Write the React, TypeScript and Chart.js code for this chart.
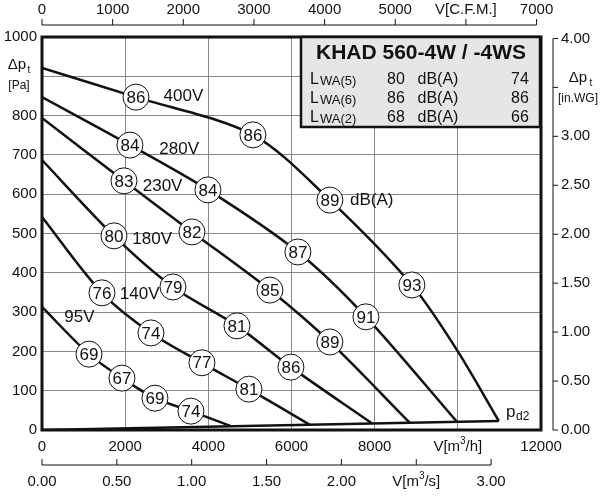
import React, { useEffect, useRef } from "react";
import { Chart, registerables } from "chart.js";
Chart.register(...registerables);

const FONT = '"Liberation Sans", Arial, sans-serif';

const curve400 = [[0, 921], [2260, 847], [5072, 751], [6923, 585], [8895, 369], [9977, 204], [10986, 23]];
const curve280 = [[0, 847], [2115, 725], [3990, 611], [6154, 453], [7789, 288], [9977, 21]];
const curve230 = [[0, 794], [1971, 634], [3606, 504], [5481, 356], [6923, 224], [8847, 18]];
const curve180 = [[0, 687], [1731, 494], [3149, 364], [4688, 265], [5986, 160], [7933, 17]];
const curve140 = [[0, 542], [1442, 349], [2620, 247], [3846, 171], [4976, 104], [6443, 13]];
const curve95 = [[0, 313], [1130, 193], [1923, 132], [2716, 81], [3582, 48], [4544, 10]];
const pd2Line = [[0, 0], [10986, 23]];

const markers = [
  [2260, 847, "86"], [5072, 751, "86"], [6923, 585, "89"], [8895, 369, "93"],
  [2115, 725, "84"], [3990, 611, "84"], [6154, 453, "87"], [7789, 288, "91"],
  [1971, 634, "83"], [3606, 504, "82"], [5481, 356, "85"], [6923, 224, "89"],
  [1731, 494, "80"], [3149, 364, "79"], [4688, 265, "81"], [5986, 160, "86"],
  [1442, 349, "76"], [2620, 247, "74"], [3846, 171, "77"], [4976, 104, "81"],
  [1130, 193, "69"], [1923, 132, "67"], [2716, 81, "69"], [3582, 48, "74"],
];

const curveLabels = [
  [3400, 848, "400V"], [3300, 714, "280V"], [2900, 620, "230V"],
  [2650, 485, "180V"], [2350, 346, "140V"], [900, 288, "95V"], [7930, 585, "dB(A)"],
];

const leftTicks = [0, 100, 200, 300, 400, 500, 600, 700, 800, 1000];
const rightTicks = ["0.00", "0.50", "1.00", "1.50", "2.00", "2.50", "3.00", "4.00"];
const rightTickVals = [0, 0.5, 1, 1.5, 2, 2.5, 3, 4];
const cfmTicks = [0, 1000, 2000, 3000, 4000, 5000, 7000];
const m3hTicks = [0, 2000, 4000, 6000, 8000, 12000];
const m3sTicks = [0, 0.5, 1, 1.5, 2, 3];
const m3sLabels = ["0.00", "0.50", "1.00", "1.50", "2.00", "3.00"];

const tableTitle = "KHAD 560-4W / -4WS";
const tableRows = [
  ["LWA(5)", "80", "dB(A)", "74"],
  ["LWA(6)", "86", "dB(A)", "86"],
  ["LWA(2)", "68", "dB(A)", "66"],
];

const toXY = (a: number[][]) => a.map(([x, y]) => ({ x, y }));

function supText(c: any, cx: number, y: number, a: string, s: string, b: string) {
  c.font = `15px ${FONT}`;
  const wa = c.measureText(a).width, wb = c.measureText(b).width;
  c.font = `10px ${FONT}`;
  const ws = c.measureText(s).width;
  const x0 = cx - (wa + ws + wb) / 2;
  c.textAlign = "left";
  c.font = `15px ${FONT}`;
  c.fillText(a, x0, y);
  c.fillText(b, x0 + wa + ws, y);
  c.font = `10px ${FONT}`;
  c.fillText(s, x0 + wa, y - 6);
  c.textAlign = "center";
}

export default function App() {
  const ref = useRef<HTMLCanvasElement>(null);
  useEffect(() => {
    document.body.style.margin = "0";
    const lineDs = (d: number[][]) => ({
      type: "line" as const,
      data: toXY(d),
      borderColor: "#111",
      borderWidth: 2.5,
      pointRadius: 0,
      tension: 0.3,
      fill: false,
      order: 2,
    });
    const overlay = {
      id: "overlay",
      afterDraw(chart: any) {
        const c = chart.ctx;
        const xs = chart.scales.x, ys = chart.scales.y;
        const a = chart.chartArea;
        c.save();
        c.fillStyle = "#111";
        c.textAlign = "center";
        c.textBaseline = "middle";
        c.font = `17px ${FONT}`;
        markers.forEach(([x, y, t]: any) => c.fillText(t, xs.getPixelForValue(x), ys.getPixelForValue(y) + 1));
        curveLabels.forEach(([x, y, t]: any) => c.fillText(t, xs.getPixelForValue(x), ys.getPixelForValue(y)));
        c.strokeStyle = "#111";
        c.lineWidth = 3;
        c.strokeRect(a.left, a.top, a.right - a.left, a.bottom - a.top);
        c.font = `17px ${FONT}`;
        c.textAlign = "left";
        c.fillText("p", 506, 412);
        c.font = `12px ${FONT}`;
        c.fillText("d2", 516, 417);
        // left axis
        c.font = `15px ${FONT}`;
        c.textAlign = "right";
        leftTicks.forEach((v) => c.fillText(String(v), 37, ys.getPixelForValue(v)));
        c.textAlign = "center";
        c.fillText("Δp", 17, 65);
        c.font = `10px ${FONT}`;
        c.fillText("t", 29, 70);
        c.font = `12px ${FONT}`;
        c.fillText("[Pa]", 19, 86);
        // right axis
        const rx = 553;
        const py = (w: number) => ys.getPixelForValue(w * 249.09);
        c.lineWidth = 1;
        c.beginPath();
        c.moveTo(rx, py(0)); c.lineTo(rx, py(4));
        rightTickVals.forEach((v) => { c.moveTo(rx, py(v)); c.lineTo(rx + 5, py(v)); });
        c.moveTo(rx, py(3.5)); c.lineTo(rx + 5, py(3.5));
        c.stroke();
        c.font = `15px ${FONT}`;
        c.textAlign = "left";
        rightTickVals.forEach((v, i) => c.fillText(rightTicks[i], 561, py(v)));
        c.textAlign = "center";
        c.fillText("Δp", 578, 78);
        c.font = `10px ${FONT}`;
        c.fillText("t", 591, 83);
        c.font = `12px ${FONT}`;
        c.fillText("[in.WG]", 578, 99);
        // top axis
        const cx = (v: number) => xs.getPixelForValue(v * 1.699);
        c.beginPath();
        c.moveTo(cx(0), 25); c.lineTo(cx(7000), 25);
        [0, 1000, 2000, 3000, 4000, 5000, 6000, 7000].forEach((v) => { c.moveTo(cx(v), 25); c.lineTo(cx(v), 19); });
        c.stroke();
        c.font = `15px ${FONT}`;
        cfmTicks.forEach((v) => c.fillText(String(v), cx(v), 10));
        c.fillText("V[C.F.M.]", cx(6000), 10);
        // bottom m3/h
        m3hTicks.forEach((v) => c.fillText(String(v), xs.getPixelForValue(v), 447));
        supText(c, xs.getPixelForValue(10000), 447, "V[m", "3", "/h]");
        // m3/s axis
        const sx = (v: number) => xs.getPixelForValue(v * 3600);
        c.beginPath();
        c.moveTo(sx(0), 465); c.lineTo(sx(3), 465);
        [0, 0.5, 1, 1.5, 2, 2.5, 3].forEach((v) => { c.moveTo(sx(v), 465); c.lineTo(sx(v), 459); });
        c.stroke();
        c.font = `15px ${FONT}`;
        m3sTicks.forEach((v, i) => c.fillText(m3sLabels[i], sx(v), 482));
        supText(c, sx(2.5), 482, "V[m", "3", "/s]");
        // table
        c.fillStyle = "#e6e6e6";
        c.fillRect(301, 37, 239, 90);
        c.strokeStyle = "#111";
        c.lineWidth = 2.5;
        c.strokeRect(301, 37, 239, 90);
        c.fillStyle = "#111";
        c.textAlign = "center";
        c.font = `bold 21px ${FONT}`;
        c.fillText(tableTitle, 421, 53);
        tableRows.forEach((r, i) => {
          const y = 80 + i * 19;
          c.textAlign = "left";
          c.font = `16px ${FONT}`;
          c.fillText("L", 310, y);
          c.font = `13px ${FONT}`;
          c.fillText(r[0].slice(1), 320, y + 1);
          c.font = `16px ${FONT}`;
          c.textAlign = "center";
          c.fillText(r[1], 396, y);
          c.fillText(r[2], 438, y);
          c.fillText(r[3], 520, y);
        });
        c.restore();
      },
    };
    const chart = new Chart(ref.current!, {
      type: "scatter",
      data: {
        datasets: [
          {
            type: "scatter",
            data: markers.map(([x, y]: any) => ({ x, y })),
            pointRadius: 13,
            pointBackgroundColor: "#fff",
            pointBorderColor: "#111",
            pointBorderWidth: 1,
            order: 0,
          } as any,
          lineDs(curve400), lineDs(curve280), lineDs(curve230), lineDs(curve180),
          lineDs(curve140), lineDs(curve95),
          { ...lineDs(pd2Line), tension: 0 },
        ],
      },
      options: {
        responsive: false,
        animation: false,
        layout: { padding: { left: 42, top: 37, right: 59, bottom: 70 } },
        plugins: { legend: { display: false }, tooltip: { enabled: false } },
        scales: {
          x: {
            type: "linear", min: 0, max: 12000,
            ticks: { display: false, stepSize: 2000 },
            grid: { color: "#888", lineWidth: 1, drawTicks: false },
            border: { display: false },
          },
          y: {
            min: 0, max: 1000,
            ticks: { display: false, stepSize: 100 },
            grid: { color: "#888", lineWidth: 1, drawTicks: false },
            border: { display: false },
          },
        },
      },
      plugins: [overlay],
    } as any);
    return () => chart.destroy();
  }, []);
  return <canvas ref={ref} width={600} height={500} style={{ display: "block" }} />;
}
